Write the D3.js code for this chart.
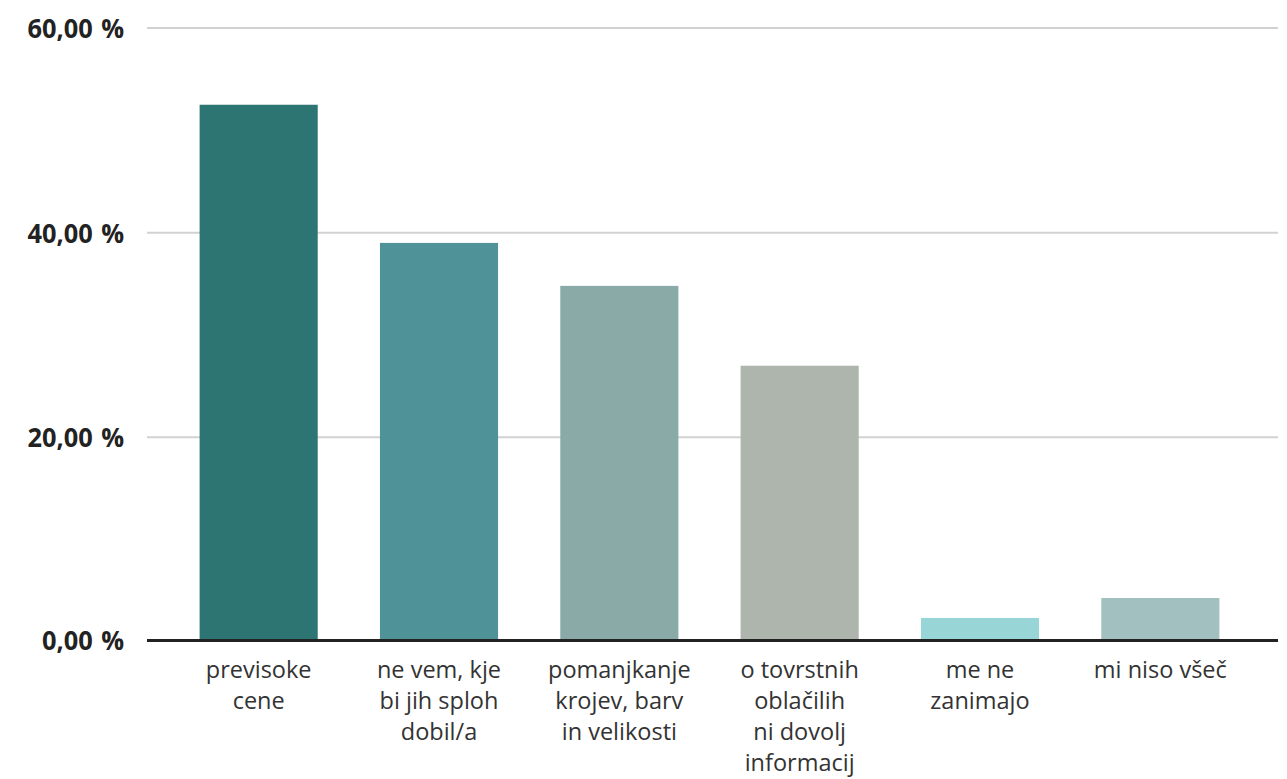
<!DOCTYPE html>
<html><head><meta charset="utf-8">
<script src="https://cdn.jsdelivr.net/npm/d3@7"></script>
<style>body{margin:0;background:#fff}svg{display:block}</style>
</head><body>
<svg id="c" width="1287" height="779"></svg>
<script>
const categories = [
  ["previsoke", "cene"],
  ["ne vem, kje", "bi jih sploh", "dobil/a"],
  ["pomanjkanje", "krojev, barv", "in velikosti"],
  ["o tovrstnih", "oblačilih", "ni dovolj", "informacij"],
  ["me ne", "zanimajo"],
  ["mi niso všeč"]
];
const values = [52.5, 39.0, 34.8, 27.0, 2.35, 4.3];
const colors = ["#2C7573", "#4F9297", "#8AAAA8", "#AEB5AD", "#97D5D7", "#A3C0C1"];
const yTicks = [0, 20, 40, 60];

const svg = d3.select("#c");
const plotLeft = 147, plotRight = 1278, plotTop = 28, plotBottom = 642;
const keys = categories.map((d, i) => i);
const x = d3.scaleBand().domain(keys).range([168.5, 1250.5]).paddingInner(0.345).paddingOuter(0.1725);
const y = d3.scaleLinear().domain([0, 60]).range([plotBottom, plotTop]);

// grid
svg.append("g").selectAll("line").data(yTicks.filter(t => t > 0)).join("line")
  .attr("x1", plotLeft).attr("x2", plotRight)
  .attr("y1", d => y(d)).attr("y2", d => y(d))
  .attr("stroke", "#d2d2d2").attr("stroke-width", 2);

// y labels
const fmt = v => d3.format(".2f")(v).replace(".", ",") + " %";
svg.append("g").selectAll("text").data(yTicks).join("text")
  .attr("transform", d => `translate(124,${y(d) + (d === 0 ? 8 : 10)}) scale(0.94,1)`)
  .attr("text-anchor", "end")
  .attr("font-family", "'Open Sans',sans-serif")
  .attr("font-weight", "bold").attr("font-size", 27).attr("fill", "#222")
  .attr("word-spacing", 2)
  .text(fmt);

// bars
svg.append("g").selectAll("rect").data(values).join("rect")
  .attr("x", (d, i) => x(i)).attr("width", x.bandwidth())
  .attr("y", d => y(d)).attr("height", d => y(0) - y(d))
  .attr("fill", (d, i) => colors[i]);

// baseline
svg.append("line").attr("x1", plotLeft).attr("x2", plotRight)
  .attr("y1", y(0) - 1.5).attr("y2", y(0) - 1.5).attr("stroke", "#222").attr("stroke-width", 3);

// category labels
const lab = svg.append("g").selectAll("text").data(categories).join("text")
  .attr("text-anchor", "middle")
  .attr("font-family", "'Source Sans Pro','Open Sans',sans-serif")
  .attr("font-size", 23.5).attr("fill", "#333");
lab.each(function(lines, i) {
  d3.select(this).selectAll("tspan").data(lines).join("tspan")
    .attr("x", x(i) + x.bandwidth() / 2)
    .attr("y", (d, j) => y(0) + 36 + j * 31)
    .text(d => d);
});
</script>
</body></html>
